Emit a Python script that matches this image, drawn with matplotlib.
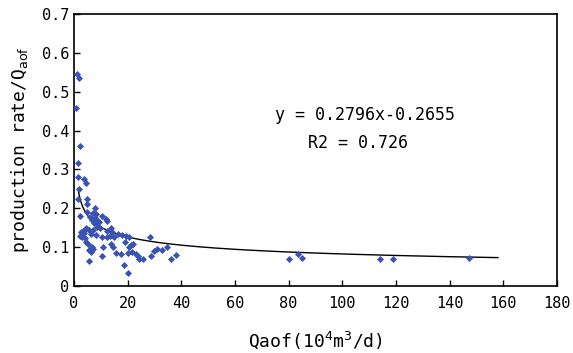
import matplotlib
matplotlib.use('Agg')
import matplotlib.pyplot as plt
import numpy as np

plt.rcParams['font.family'] = ['DejaVu Sans Mono', 'DejaVu Sans']

# Qaof (10^4 m3/d) and production rate / Qaof
qaof = [1.0, 1.9, 0.6, 2.3, 1.6, 1.6, 3.8, 4.5, 2.0, 1.7, 4.7, 4.7, 7.9,
        2.3, 5.0, 7.2, 8.2, 6.0, 6.6, 7.8, 8.7, 9.4, 7.5, 10.4, 11.9, 12.4,
        8.7, 9.9, 4.5, 3.2, 2.5, 2.2, 2.9, 3.7, 5.7, 6.3, 7.2, 8.2, 12.2,
        13.7, 14.3, 13.4, 14.9, 12.2, 17.8, 19.3, 20.6, 21.2, 22.1, 20.6,
        19.1, 28.3, 4.1, 4.5, 5.3, 6.6, 7.2, 5.7, 6.2, 5.6, 10.7, 10.5,
        13.7, 14.6, 15.7, 17.4, 18.8, 20.1, 20.2, 21.5, 23.1, 23.9, 24.3,
        25.6, 28.6, 29.9, 30.8, 32.7, 34.6, 36.2, 38.0, 10.3, 16.5,
        80.2, 83.6, 85.1, 114.0, 119.0, 147.3]
ratio = [0.546, 0.535, 0.459, 0.360, 0.316, 0.280, 0.275, 0.266, 0.250,
         0.225, 0.224, 0.210, 0.200, 0.180, 0.190, 0.187, 0.185, 0.178,
         0.170, 0.174, 0.170, 0.165, 0.161, 0.180, 0.172, 0.166, 0.151,
         0.148, 0.150, 0.142, 0.139, 0.129, 0.125, 0.137, 0.144, 0.134,
         0.144, 0.131, 0.142, 0.149, 0.140, 0.129, 0.127, 0.125, 0.131,
         0.129, 0.125, 0.105, 0.108, 0.100, 0.113, 0.125, 0.123, 0.114,
         0.107, 0.100, 0.094, 0.093, 0.087, 0.064, 0.101, 0.077, 0.107,
         0.100, 0.084, 0.082, 0.054, 0.034, 0.084, 0.088, 0.082, 0.077,
         0.069, 0.069, 0.078, 0.091, 0.096, 0.093, 0.099, 0.070, 0.080,
         0.125, 0.133, 0.069, 0.082, 0.071, 0.069, 0.069, 0.073]

coef_a = 0.2796
coef_b = -0.2655

fig = plt.figure(figsize=(5.73, 3.53), dpi=100)
ax = fig.add_axes([0.129, 0.190, 0.843, 0.770])

ax.scatter(qaof, ratio, marker='D', s=13, color='#3a52b4', linewidths=0, zorder=3)

xfit = np.linspace(1.5, 158, 300)
ax.plot(xfit, coef_a * xfit ** coef_b, color='black', linewidth=1.0, zorder=2)

ax.set_xlim(0, 180)
ax.set_ylim(0, 0.7)
ax.set_xticks(np.arange(0, 181, 20))
ax.set_yticks(np.arange(0, 0.71, 0.1))
ax.set_yticklabels(['0', '0.1', '0.2', '0.3', '0.4', '0.5', '0.6', '0.7'])
ax.tick_params(labelsize=11, direction='in', length=4, width=1)
ax.tick_params(axis='x', pad=7)
for s in ax.spines.values():
    s.set_linewidth(1.2)

ax.set_xlabel(r'Qaof(10$^{4}$m$^{3}$/d)', fontsize=13, labelpad=14)
ax.set_ylabel(r'production rate/Q$_{\mathrm{aof}}$', fontsize=13, labelpad=8)

ax.text(108.5, 0.44, 'y = 0.2796x-0.2655', fontsize=12, ha='center', va='center')
ax.text(106, 0.368, 'R2 = 0.726', fontsize=12, ha='center', va='center')

fig.savefig('out.png', dpi=100)
